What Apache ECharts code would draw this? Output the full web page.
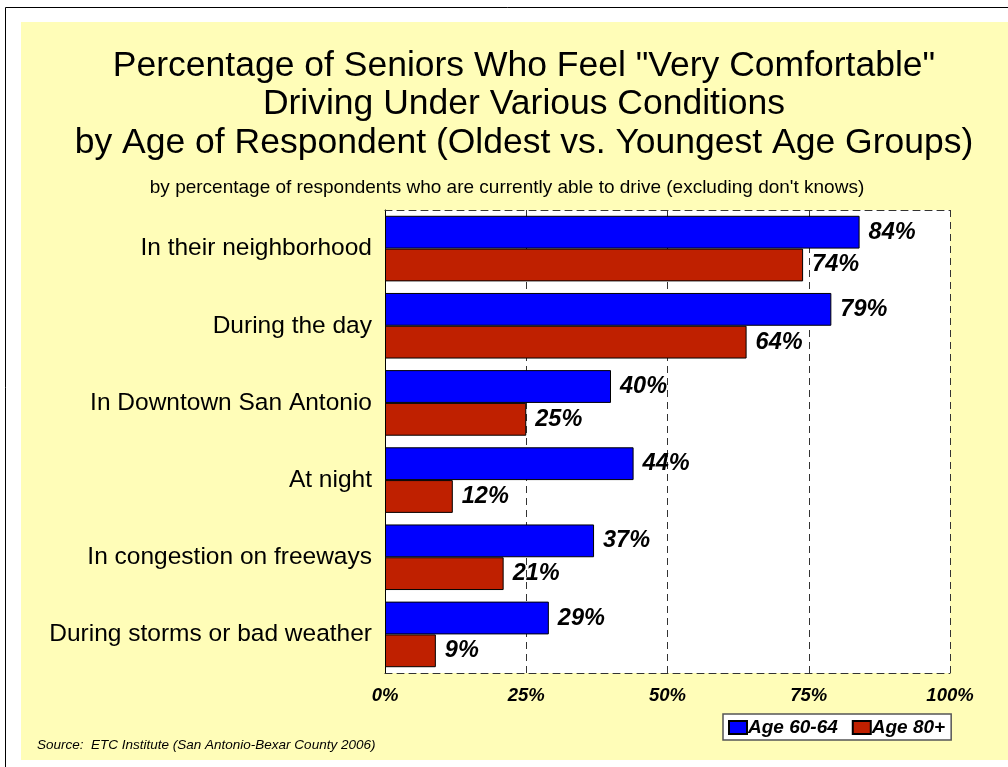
<!DOCTYPE html>
<html>
<head>
<meta charset="utf-8">
<script src="https://cdn.jsdelivr.net/npm/echarts@6/dist/echarts.min.js"></script>
<style>html,body{margin:0;padding:0;background:#fff;}#c{width:1008px;height:767px;}</style>
</head>
<body>
<div id="c"></div>
<script>
const categories = ["In their neighborhood","During the day","In Downtown San Antonio","At night","In congestion on freeways","During storms or bad weather"];
const age6064 = [84, 79, 40, 44, 37, 29];
const age80 = [74, 64, 25, 12, 21, 9];
const seriesNames = ["Age 60-64", "Age 80+"];
const titleLines = ['Percentage of Seniors Who Feel "Very Comfortable"', 'Driving Under Various Conditions', 'by Age of Respondent (Oldest vs. Youngest Age Groups)'];
const subtitle = "by percentage of respondents who are currently able to drive (excluding don't knows)";
const source = "Source:  ETC Institute (San Antonio-Bexar County 2006)";

const FONT = '"Liberation Sans", Arial, sans-serif';
const chart = echarts.init(document.getElementById('c'), null, {renderer: 'canvas'});
const labelStyle = {show: true, position: 'right', distance: 9, formatter: '{c}%', fontFamily: FONT, fontSize: 23.5, fontWeight: 'bold', fontStyle: 'italic', color: '#000'};
const dash = [7, 5];
const titleStyle = {fontFamily: FONT, fontSize: 35.5, fill: '#000', align: 'center', verticalAlign: 'middle'};
chart.setOption({
  animation: false,
  backgroundColor: '#fff',
  graphic: [
    {type: 'rect', shape: {x: 5.5, y: 7.5, width: 1010, height: 800}, style: {fill: '#fff', stroke: '#000', lineWidth: 1}, z: -10, silent: true},
    {type: 'rect', shape: {x: 21, y: 22, width: 990, height: 738}, style: {fill: '#FFFDB8'}, z: -9, silent: true},
    {type: 'rect', shape: {x: 385, y: 210, width: 565, height: 463}, style: {fill: '#fff'}, z: -8, silent: true},
    {type: 'text', x: 524, y: 66, style: Object.assign({text: titleLines[0]}, titleStyle)},
    {type: 'text', x: 524, y: 104, style: Object.assign({text: titleLines[1]}, titleStyle)},
    {type: 'text', x: 524, y: 143, style: Object.assign({text: titleLines[2]}, titleStyle)},
    {type: 'text', x: 507, y: 188, style: {text: subtitle, fontFamily: FONT, fontSize: 19, fill: '#000', align: 'center', verticalAlign: 'middle'}},
    {type: 'text', x: 37, y: 745, style: {text: source, fontFamily: FONT, fontSize: 13.5, fontStyle: 'italic', fill: '#000', align: 'left', verticalAlign: 'middle'}}
  ],
  grid: {left: 385, right: 58, top: 210, bottom: 94, containLabel: false},
  legend: {
    data: seriesNames, left: 723, top: 714, orient: 'horizontal', icon: 'rect',
    backgroundColor: '#fff', borderColor: '#555', borderWidth: 1.5, padding: [4, 6, 3, 5],
    itemWidth: 18, itemHeight: 13, itemGap: 14,
    textStyle: {fontFamily: FONT, fontSize: 19, fontWeight: 'bold', fontStyle: 'italic', color: '#000', padding: [0, 0, 0, -4]}
  },
  xAxis: [
    {type: 'value', min: 0, max: 100, interval: 25, position: 'bottom',
     axisLine: {show: true, lineStyle: {color: '#333', type: dash, width: 1}},
     axisTick: {show: false},
     axisLabel: {formatter: '{value}%', margin: 13, fontFamily: FONT, fontSize: 18.5, fontWeight: 'bold', fontStyle: 'italic', color: '#000'},
     splitLine: {show: true, lineStyle: {color: '#333', type: dash, width: 1}}},
    {type: 'value', min: 0, max: 100, interval: 25, position: 'top',
     axisLine: {show: true, lineStyle: {color: '#333', type: dash, width: 1}},
     axisTick: {show: false}, axisLabel: {show: false}, splitLine: {show: false}}
  ],
  yAxis: {
    type: 'category', data: categories, inverse: true,
    axisLine: {show: true, lineStyle: {color: '#000', width: 1}},
    axisTick: {show: false},
    axisLabel: {margin: 13, fontFamily: FONT, fontSize: 24.5, color: '#000'}
  },
  series: [
    {name: seriesNames[0], type: 'bar', data: age6064, barGap: '0%', barCategoryGap: '15%',
     itemStyle: {color: '#0000FF', borderColor: '#000', borderWidth: 1}, label: labelStyle},
    {name: seriesNames[1], type: 'bar', data: age80, barGap: '0%', barCategoryGap: '15%',
     itemStyle: {color: '#BF2000', borderColor: '#000', borderWidth: 1}, label: labelStyle}
  ]
});
</script>
</body>
</html>
